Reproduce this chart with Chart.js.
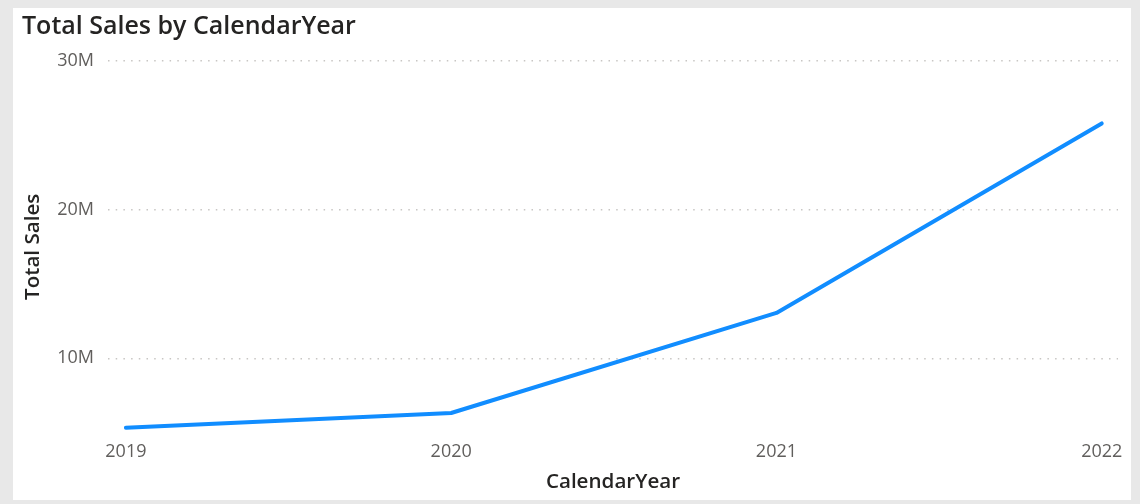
<!DOCTYPE html>
<html>
<head>
<meta charset="utf-8">
<script src="https://cdn.jsdelivr.net/npm/chart.js@4.4.0/dist/chart.umd.min.js"></script>
<style>
  html, body { margin:0; padding:0; background:#e8e8e8; width:1140px; height:504px; overflow:hidden; }
  #card { position:absolute; left:13px; top:8px; width:1118px; height:492px; background:#ffffff; }
  #title { position:absolute; left:9px; top:0px; font-family:"Open Sans", sans-serif; font-weight:600; font-size:25px; color:#252423; line-height:32px; white-space:nowrap; }
  canvas { position:absolute; left:0; top:0; }
</style>
</head>
<body>
<div id="card">
  <canvas id="c" width="1118" height="492"></canvas>
  <div id="title">Total Sales by CalendarYear</div>
</div>
<script>
const titleText = "Total Sales by CalendarYear";
const years = [2019, 2020, 2021, 2022];
const totalSales = [5330000, 6320000, 13050000, 25800000];
const yTicks = [10000000, 20000000, 30000000];
const yTickLabels = ["10M", "20M", "30M"];
const xAxisTitle = "CalendarYear";
const yAxisTitle = "Total Sales";

const tickFont = { family: "'Open Sans', sans-serif", size: 18 };
const axisTitleFont = { family: "'Open Sans', sans-serif", size: 20.6, weight: 600 };

new Chart(document.getElementById('c'), {
  type: 'line',
  data: {
    datasets: [{
      data: years.map((y, i) => ({ x: y, y: totalSales[i] })),
      borderColor: '#118DFF',
      borderWidth: 4,
      pointRadius: 0,
      tension: 0,
      borderCapStyle: 'round',
      borderJoinStyle: 'round',
      fill: false
    }]
  },
  options: {
    responsive: false,
    animation: false,
    layout: { padding: { top: 53, left: 0, right: 13, bottom: 0 } },
    plugins: { legend: { display: false }, tooltip: { enabled: false }, title: { display: false } },
    scales: {
      x: {
        type: 'linear',
        min: 2018.945,
        max: 2022.05,
        afterFit: s => { s.height = 67.4; },
        afterBuildTicks: s => { s.ticks = years.map(v => ({ value: v })); },
        grid: { display: false, drawTicks: false },
        border: { display: false },
        ticks: { font: tickFont, color: '#605E5C', padding: 8, autoSkip: false, maxRotation: 0,
                 callback: v => String(v) },
        title: { display: true, text: xAxisTitle, font: axisTitleFont, color: '#252423', padding: { top: 0, bottom: 6 } }
      },
      y: {
        type: 'linear',
        min: 5000000,
        max: 30000000,
        afterFit: s => { s.width = 95; },
        afterBuildTicks: s => { s.ticks = yTicks.map(v => ({ value: v })); },
        grid: { color: '#c8c6c4', lineWidth: 1.5, drawTicks: false },
        border: { display: false, dash: [1.5, 6.2] },
        ticks: { font: tickFont, color: '#605E5C', padding: 14,
                 callback: v => yTickLabels[yTicks.indexOf(v)] },
        title: { display: true, text: yAxisTitle, font: axisTitleFont, color: '#252423', padding: { top: 8, bottom: 0 } }
      }
    }
  }
});
</script>
</body>
</html>
